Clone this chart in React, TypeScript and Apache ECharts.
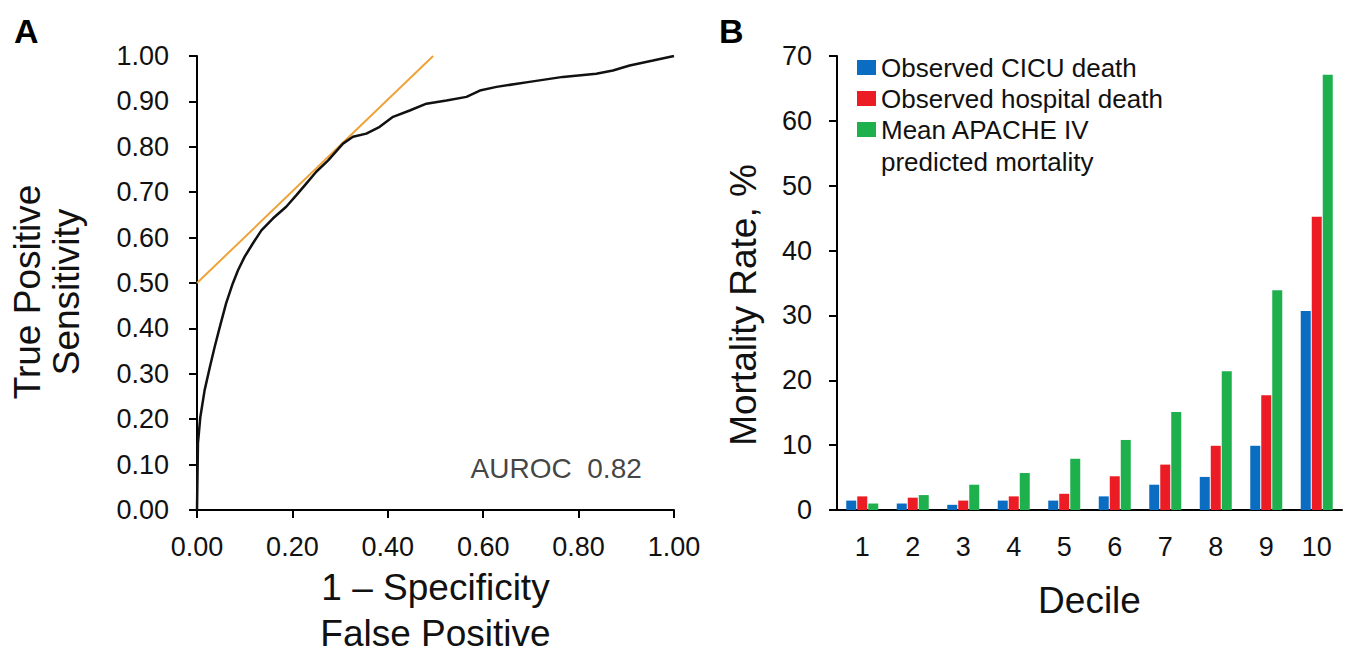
import React, { useEffect, useRef } from "react";
import * as echarts from "echarts";

// ROC curve (1 - specificity, sensitivity)
const rocFpr = [0, 0.002, 0.007, 0.016, 0.027, 0.037, 0.048, 0.061, 0.075, 0.086, 0.1, 0.117, 0.135, 0.159, 0.187, 0.208, 0.229, 0.25, 0.275, 0.306, 0.327, 0.355, 0.383, 0.411, 0.446, 0.481, 0.523, 0.565, 0.593, 0.628, 0.697, 0.767, 0.837, 0.872, 0.907, 0.956, 1.0];
const rocTpr = [0, 0.147, 0.205, 0.264, 0.315, 0.359, 0.404, 0.455, 0.499, 0.528, 0.558, 0.587, 0.616, 0.642, 0.668, 0.693, 0.719, 0.745, 0.77, 0.807, 0.822, 0.829, 0.844, 0.866, 0.88, 0.895, 0.902, 0.91, 0.924, 0.932, 0.943, 0.954, 0.961, 0.968, 0.979, 0.99, 1.0];
// tangent line
const tangentX = [0, 0.495];
const tangentY = [0.5, 1.0];
const aurocLabel = "AUROC  0.82";
const aurocPos = [0.753, 0.0925];

// Deciles
const deciles = ["1", "2", "3", "4", "5", "6", "7", "8", "9", "10"];
const cicuDeath = [1.45, 1.0, 0.8, 1.45, 1.45, 2.1, 3.9, 5.1, 9.9, 30.7];
const hospitalDeath = [2.1, 1.9, 1.45, 2.1, 2.5, 5.2, 7.0, 9.9, 17.7, 45.2];
const apachePredicted = [1.0, 2.3, 3.9, 5.7, 7.9, 10.8, 15.1, 21.4, 33.9, 67.1];
const seriesNames = ["Observed CICU death", "Observed hospital death", "Mean APACHE IV predicted mortality"];
const legendLine1 = "Mean APACHE IV";
const legendLine2 = "predicted mortality";

const FONT = "'Liberation Sans', Arial, Helvetica, sans-serif";
const BLACK = "#000";
const TEXT = "#111";

export default function App() {
  const ref = useRef<HTMLDivElement>(null);
  useEffect(() => {
    if (!ref.current) return;
    const chart = echarts.init(ref.current, undefined, { renderer: "svg" });
    const axisLine = { show: true, lineStyle: { color: BLACK, width: 2 } };
    const axisTick = { show: true, inside: false, length: 8, lineStyle: { color: BLACK, width: 2 } };
    const tickLabel = { color: TEXT, fontSize: 27, fontFamily: FONT };
    const titleStyle = { color: TEXT, fontSize: 37, fontFamily: FONT };
    chart.setOption({
      animation: false,
      backgroundColor: "#fff",
      textStyle: { fontFamily: FONT },
      grid: [
        { left: 197, top: 56, width: 477, height: 454, containLabel: false },
        { left: 837, top: 56, width: 505, height: 454, containLabel: false },
      ],
      xAxis: [
        {
          type: "value", gridIndex: 0, min: 0, max: 1, interval: 0.2,
          axisLine, axisTick, splitLine: { show: false },
          axisLabel: { ...tickLabel, margin: 23, formatter: (v: number) => v.toFixed(2) },
          name: "1 \u2013 Specificity\nFalse Positive", nameLocation: "middle", nameGap: 51,
          nameTextStyle: { ...titleStyle, lineHeight: 46 },
        },
        {
          type: "category", gridIndex: 1, data: deciles,
          axisLine, axisTick: { show: false }, splitLine: { show: false },
          axisLabel: { ...tickLabel, margin: 23 },
          name: "Decile", nameLocation: "middle", nameGap: 72,
          nameTextStyle: titleStyle,
        },
      ],
      yAxis: [
        {
          type: "value", gridIndex: 0, min: 0, max: 1, interval: 0.1,
          axisLine, axisTick, splitLine: { show: false },
          axisLabel: { ...tickLabel, margin: 28, formatter: (v: number) => v.toFixed(2) },
        },
        {
          type: "value", gridIndex: 1, min: 0, max: 70, interval: 10,
          axisLine, axisTick, splitLine: { show: false },
          axisLabel: { ...tickLabel, margin: 25 },
        },
      ],
      legend: {
        orient: "vertical", left: 857, top: 52, padding: 0,
        itemWidth: 19, itemHeight: 15, itemGap: 0,
        icon: "rect",
        textStyle: { color: TEXT, fontSize: 26, fontFamily: FONT, lineHeight: 31 },
        formatter: (name: string) => (name === seriesNames[2] ? legendLine1 : name),
        data: seriesNames,
      },
      graphic: [
        { type: "text", left: 14, top: 14, style: { text: "A", fontSize: 34, fontWeight: "bold", fontFamily: FONT, fill: BLACK } },
        { type: "text", left: 719, top: 14, style: { text: "B", fontSize: 34, fontWeight: "bold", fontFamily: FONT, fill: BLACK } },
        {
          type: "text", x: 47, y: 292, rotation: Math.PI / 2,
          style: { text: "True Positive\nSensitivity", align: "center", verticalAlign: "middle", fontSize: 37, lineHeight: 39, fontFamily: FONT, fill: TEXT },
        },
        {
          type: "text", x: 743, y: 305, rotation: Math.PI / 2,
          style: { text: "Mortality Rate, %", align: "center", verticalAlign: "middle", fontSize: 37, fontFamily: FONT, fill: TEXT },
        },
        {
          type: "text", x: 881, y: 162,
          style: { text: legendLine2, align: "left", verticalAlign: "middle", fontSize: 26, fontFamily: FONT, fill: TEXT },
        },
      ],
      series: [
        {
          type: "line", xAxisIndex: 0, yAxisIndex: 0, name: "ROC",
          data: rocFpr.map((x, i) => [x, rocTpr[i]]),
          showSymbol: false, symbol: "none", smooth: false,
          lineStyle: { color: "#111", width: 2.5 },
          z: 3,
        },
        {
          type: "line", xAxisIndex: 0, yAxisIndex: 0, name: "Tangent",
          data: tangentX.map((x, i) => [x, tangentY[i]]),
          showSymbol: false, symbol: "none",
          lineStyle: { color: "#EFA23A", width: 2 },
          z: 2,
        },
        {
          type: "scatter", xAxisIndex: 0, yAxisIndex: 0, name: "AUROC",
          data: [aurocPos], symbolSize: 0, silent: true,
          label: { show: true, formatter: aurocLabel, position: "inside", fontSize: 28, color: TEXT, fontFamily: FONT },
        },
        {
          type: "bar", xAxisIndex: 1, yAxisIndex: 1, name: seriesNames[0], data: cicuDeath,
          barWidth: 10, barGap: "10%", itemStyle: { color: "#0A6DC2" },
        },
        {
          type: "bar", xAxisIndex: 1, yAxisIndex: 1, name: seriesNames[1], data: hospitalDeath,
          barWidth: 10, barGap: "10%", itemStyle: { color: "#EC1C24" },
        },
        {
          type: "bar", xAxisIndex: 1, yAxisIndex: 1, name: seriesNames[2], data: apachePredicted,
          barWidth: 10, barGap: "10%", itemStyle: { color: "#1DB04C" },
        },
      ],
    });
    return () => chart.dispose();
  }, []);
  return <div ref={ref} style={{ position: "fixed", left: 0, top: 0, width: 1352, height: 665 }} />;
}
